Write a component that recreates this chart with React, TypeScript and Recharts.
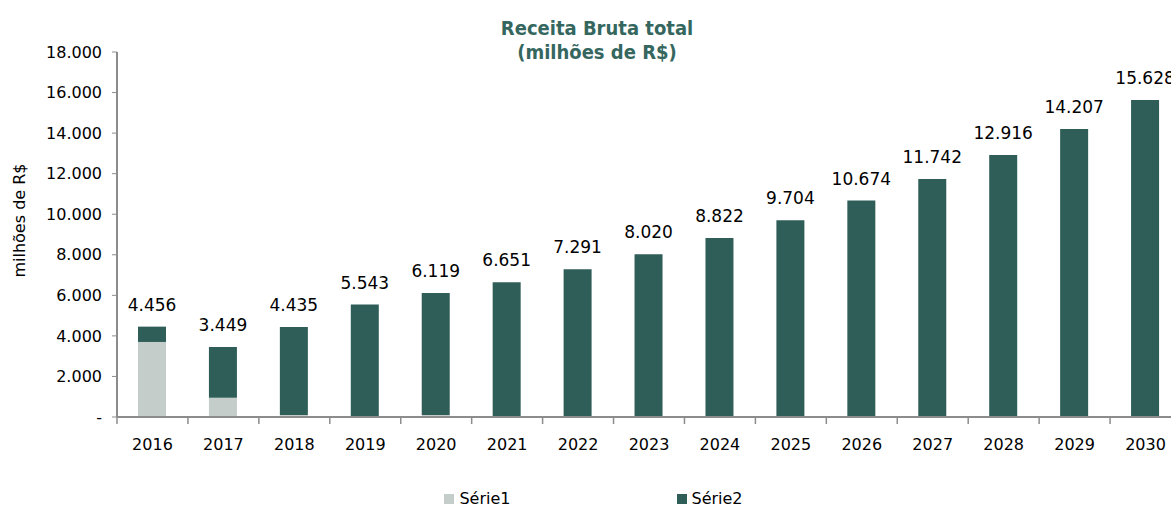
import React from 'react'
import { Bar, BarChart, LabelList, Legend, XAxis, YAxis } from 'recharts'

const years = ['2016', '2017', '2018', '2019', '2020', '2021', '2022', '2023', '2024', '2025', '2026', '2027', '2028', '2029', '2030']
const serie1 = [3700, 950, 100, 0, 100, 0, 0, 0, 0, 0, 0, 0, 0, 0, 0]
const serie2 = [756, 2499, 4335, 5543, 6019, 6651, 7291, 8020, 8822, 9704, 10674, 11742, 12916, 14207, 15628]
const totals = [4456, 3449, 4435, 5543, 6119, 6651, 7291, 8020, 8822, 9704, 10674, 11742, 12916, 14207, 15628]
const yTicks = [0, 2000, 4000, 6000, 8000, 10000, 12000, 14000, 16000, 18000]

const data = years.map((year, i) => ({ year, s1: serie1[i], s2: serie2[i], total: totals[i] }))

const FONT = '"DejaVu Sans", sans-serif'
const TITLE_FONT = '"DejaVu Sans Condensed", "DejaVu Sans", sans-serif'
const DARK = '#2F5E58'
const LIGHT = '#C4CDCA'
const AXIS = '#8C8C8C'

const fmt = (v: number) => (v === 0 ? '-' : String(v).replace(/\B(?=(\d{3})+(?!\d))/g, '.'))

function YearTick(props: any) {
  const { x, y, payload } = props
  const half = payload && payload.offset ? payload.offset : 35.45
  return (
    <g>
      <line x1={x - half} y1={y} x2={x - half} y2={y + 7} stroke={AXIS} strokeWidth={1.5} />
      <text x={x} y={y + 33} textAnchor="middle" fontSize={16} fill="#000" fontFamily={FONT}>
        {payload.value}
      </text>
    </g>
  )
}

function LegendBox() {
  const items = [
    { name: 'Série1', color: LIGHT },
    { name: 'Série2', color: DARK },
  ]
  return (
    <div style={{ display: 'flex', justifyContent: 'center', gap: 166, fontFamily: FONT, fontSize: 16, paddingLeft: 6 }}>
      {items.map((it) => (
        <div key={it.name} style={{ display: 'flex', alignItems: 'center' }}>
          <span style={{ width: 10, height: 10, background: it.color, marginRight: 5 }} />
          <span>{it.name}</span>
        </div>
      ))}
    </div>
  )
}

export default function App() {
  return (
    <div style={{ position: 'absolute', left: 0, top: 0, width: 1171, height: 508, overflow: 'hidden', background: '#fff' }}>
      <div
        style={{
          position: 'absolute',
          left: 397,
          top: 16,
          width: 400,
          textAlign: 'center',
          color: '#35675F',
          fontFamily: TITLE_FONT,
          fontWeight: 'bold',
          fontSize: 20,
          lineHeight: '24px',
          zIndex: 2,
        }}
      >
        Receita Bruta total
        <br />
        (milhões de R$)
      </div>
      <BarChart width={1200} height={508} data={data} margin={{ top: 52, right: 19, left: 0, bottom: 22 }}>
        <XAxis
          dataKey="year"
          height={50}
          axisLine={{ stroke: AXIS, strokeWidth: 2 }}
          tickLine={false}
          tickSize={0}
          tickMargin={0}
          interval={0}
          tick={<YearTick />}
        />
        <YAxis
          width={117}
          domain={[0, 18000]}
          ticks={yTicks}
          interval={0}
          tickFormatter={fmt}
          axisLine={{ stroke: AXIS, strokeWidth: 2 }}
          tickLine={{ stroke: AXIS }}
          tickSize={5}
          tickMargin={10}
          tick={{ fill: '#000', fontSize: 16, fontFamily: FONT }}
          label={{
            value: 'milhões de R$',
            angle: -90,
            position: 'insideLeft',
            offset: 19,
            dy: -14,
            style: { textAnchor: 'middle', fill: '#000', fontSize: 16, fontFamily: FONT },
          }}
        />
        <Legend
          verticalAlign="bottom"
          wrapperStyle={{ bottom: 0 }}
          content={() => <LegendBox />}
        />
        <Bar dataKey="s1" name="Série1" stackId="a" fill={LIGHT} barSize={28} isAnimationActive={false} />
        <Bar dataKey="s2" name="Série2" stackId="a" fill={DARK} barSize={28} isAnimationActive={false}>
          <LabelList dataKey="total" position="top" offset={16} formatter={(v: any) => fmt(Number(v))} fill="#000" fontSize={17} fontFamily={FONT} />
        </Bar>
      </BarChart>
    </div>
  )
}
